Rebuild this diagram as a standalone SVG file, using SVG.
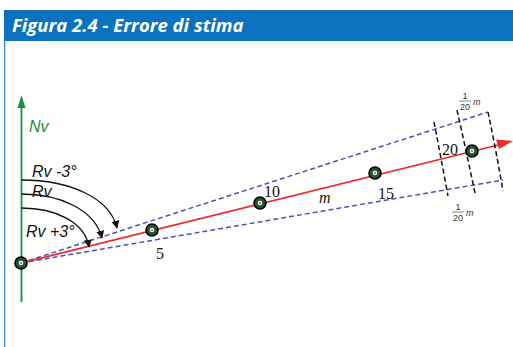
<svg xmlns="http://www.w3.org/2000/svg" width="513" height="347" viewBox="0 0 513 347">
<style>
.hdr{font-family:"Open Sans","Liberation Sans",sans-serif;font-style:italic;font-weight:bold;font-size:18.5px;fill:#fff}
.lab{font-family:"Liberation Sans",Arial,sans-serif;font-style:italic;font-size:16px;fill:#111}
.num{font-family:"Liberation Serif","Times New Roman",serif;font-size:16px;fill:#111}
.frac{font-family:"Liberation Sans",Arial,sans-serif;font-size:9px;fill:#333}
.blue{stroke:#4b55b5;stroke-width:1.5;stroke-dasharray:5 3;fill:none}
.blk{stroke:#111;stroke-width:1.5;stroke-dasharray:5 3;fill:none}
.arc{stroke:#111;stroke-width:1.3;fill:none;marker-end:url(#ah)}
</style>
<defs>
<marker id="ah" viewBox="0 0 10 10" refX="9" refY="5" markerWidth="8" markerHeight="8" orient="auto" markerUnits="userSpaceOnUse">
<path d="M0,0 L10,5 L0,10 z" fill="#111"/>
</marker>
<g id="pt">
<circle r="6" fill="#1c5a33" stroke="#000" stroke-width="1.6"/>
<circle r="2.3" fill="#fff"/>
<circle r="1" fill="#e33"/>
</g>
</defs>
<rect width="513" height="347" fill="#fff"/>
<rect x="4" y="10" width="509" height="31" fill="#0a72bf"/>
<text class="hdr" x="12" y="32">Figura 2.4 - Errore di stima</text>
<line x1="4.6" y1="41" x2="4.6" y2="347" stroke="#3a8fd6" stroke-width="1.4"/>

<g id="connectors">
<line x1="21.5" y1="302" x2="21.5" y2="106" stroke="#1e8f3e" stroke-width="1.8"/>
<path d="M21.5,95 L17.5,108 L25.5,108 z" fill="#1e8f3e"/>
<line class="blue" x1="21" y1="263" x2="488" y2="112"/>
<line class="blue" x1="21" y1="263" x2="503" y2="180"/>
<line x1="21" y1="263" x2="498" y2="145" stroke="#ee2b2b" stroke-width="1.8"/>
<path d="M513,141 L496,139.5 L499,149 z" fill="#ee2b2b"/>
<path class="blk" d="M434,122 Q441,158 448,196"/>
<path class="blk" d="M457,110 Q466,150 475,193"/>
<path class="blk" d="M488,112 Q496,150 503,191"/>
<path class="arc" d="M21.5,180 C70,180 110,198 117,228"/>
<path class="arc" d="M21.5,194 C60,194 95,210 102,238"/>
<path class="arc" d="M21.5,208 C55,208 85,222 89,247"/>
</g>

<g id="origin"><use href="#pt" x="21" y="263"/></g>
<g id="p5"><use href="#pt" x="152" y="230"/><text class="num" x="156" y="259">5</text></g>
<g id="p10"><use href="#pt" x="260" y="203"/><text class="num" x="264" y="197">10</text></g>
<g id="p15"><use href="#pt" x="375" y="173"/><text class="num" x="378" y="199">15</text></g>
<g id="p20"><use href="#pt" x="472" y="151"/><text class="num" x="442" y="155" font-size="17">20</text></g>

<g id="labels">
<text class="lab" x="29" y="132" style="fill:#1e8f3e">Nv</text>
<text class="lab" x="32" y="177">Rv -3°</text>
<text class="lab" x="32" y="197">Rv</text>
<text class="lab" x="26" y="237">Rv +3°</text>
<text class="num" x="319" y="203" style="font-style:italic">m</text>
</g>

<g id="frac-top">
<text class="frac" x="465" y="99" text-anchor="middle">1</text>
<line x1="459" y1="101" x2="471" y2="101" stroke="#333" stroke-width="0.6"/>
<text class="frac" x="465" y="110" text-anchor="middle">20</text>
<text class="frac" x="473" y="105" font-style="italic">m</text>
</g>
<g id="frac-bot">
<text class="frac" x="458" y="210" text-anchor="middle">1</text>
<line x1="452" y1="212" x2="464" y2="212" stroke="#333" stroke-width="0.6"/>
<text class="frac" x="458" y="221" text-anchor="middle">20</text>
<text class="frac" x="466" y="216" font-style="italic">m</text>
</g>
</svg>
